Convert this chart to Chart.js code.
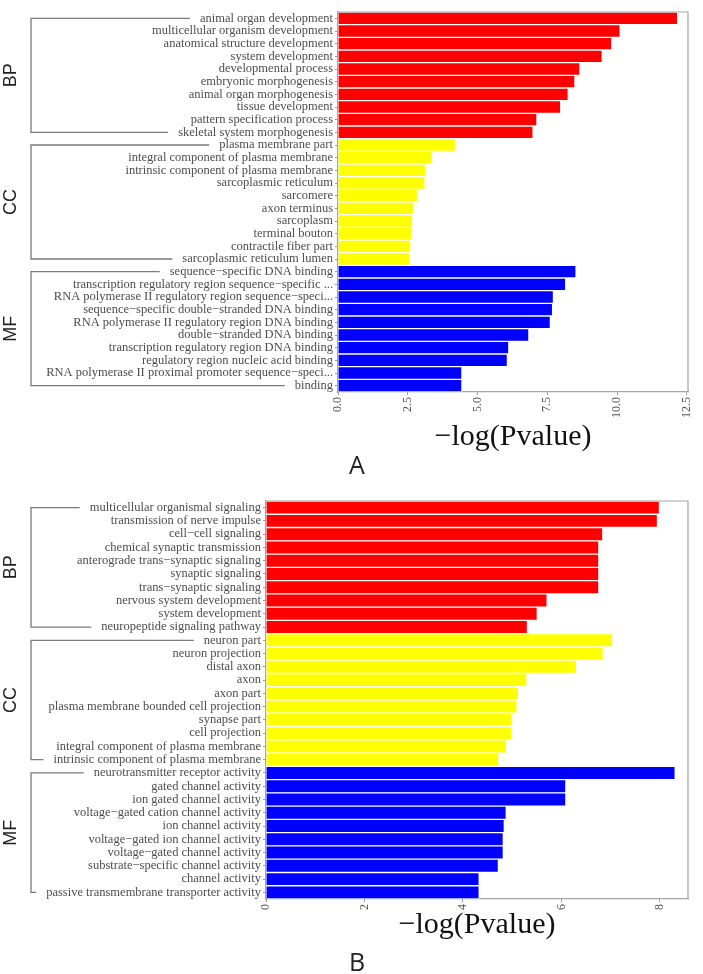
<!DOCTYPE html>
<html>
<head>
<meta charset="utf-8">
<script src="https://cdn.jsdelivr.net/npm/chart.js@4.4.1/dist/chart.umd.min.js"></script>
<style>
body{margin:0;background:#fff;width:703px;height:974px;position:relative;overflow:hidden}
canvas{position:absolute;left:0}
.tag{position:absolute;font-family:"Open Sans";font-size:25px;color:#222;width:40px;text-align:center}
</style>
</head>
<body>
<canvas id="chartA" width="703" height="460" style="top:0"></canvas>
<div class="tag" style="left:337px;top:447px">A</div>
<canvas id="chartB" width="703" height="470" style="top:490px"></canvas>
<div class="tag" style="left:337px;top:944px">B</div>
<script>
// ---- chart A data ----
const catsA_BP=["animal organ development","multicellular organism development","anatomical structure development","system development","developmental process","embryonic morphogenesis","animal organ morphogenesis","tissue development","pattern specification process","skeletal system morphogenesis"];
const valsA_BP=[12.17,10.11,9.81,9.47,8.67,8.49,8.25,7.98,7.13,6.99];
const catsA_CC=["plasma membrane part","integral component of plasma membrane","intrinsic component of plasma membrane","sarcoplasmic reticulum","sarcomere","axon terminus","sarcoplasm","terminal bouton","contractile fiber part","sarcoplasmic reticulum lumen"];
const valsA_CC=[4.21,3.37,3.14,3.12,2.85,2.71,2.68,2.64,2.61,2.58];
const catsA_MF=["sequence−specific DNA binding","transcription regulatory region sequence−specific ...","RNA polymerase II regulatory region sequence−speci...","sequence−specific double−stranded DNA binding","RNA polymerase II regulatory region DNA binding","double−stranded DNA binding","transcription regulatory region DNA binding","regulatory region nucleic acid binding","RNA polymerase II proximal promoter sequence−speci...","binding"];
const valsA_MF=[8.53,8.16,7.72,7.69,7.61,6.84,6.12,6.07,4.44,4.44];
const xTicksA=[0,2.5,5,7.5,10,12.5];

// ---- chart B data ----
const catsB_BP=["multicellular organismal signaling","transmission of nerve impulse","cell−cell signaling","chemical synaptic transmission","anterograde trans−synaptic signaling","synaptic signaling","trans−synaptic signaling","nervous system development","system development","neuropeptide signaling pathway"];
const valsB_BP=[7.99,7.95,6.84,6.76,6.76,6.76,6.76,5.71,5.51,5.31];
const catsB_CC=["neuron part","neuron projection","distal axon","axon","axon part","plasma membrane bounded cell projection","synapse part","cell projection","integral component of plasma membrane","intrinsic component of plasma membrane"];
const valsB_CC=[7.04,6.85,6.31,5.30,5.13,5.10,5.00,5.00,4.88,4.73];
const catsB_MF=["neurotransmitter receptor activity","gated channel activity","ion gated channel activity","voltage−gated cation channel activity","ion channel activity","voltage−gated ion channel activity","voltage−gated channel activity","substrate−specific channel activity","channel activity","passive transmembrane transporter activity"];
const valsB_MF=[8.31,6.09,6.09,4.88,4.84,4.82,4.82,4.72,4.33,4.33];
const xTicksB=[0,2,4,6,8];

const groupNames=["BP","CC","MF"];
const groupColors=["#ff0000","#ffff00","#0000ff"];
const axisTitle="−log(Pvalue)";

const LABEL_FONT='12.5px "Liberation Serif"';

// brackets + group names on the left, top/right panel border
const groupBrackets={
  id:'groupBrackets',
  afterDraw(chart,args,opts){
    const ctx=chart.ctx, ca=chart.chartArea, ys=chart.scales.y;
    ctx.save();
    ctx.strokeStyle='#a3a3a3';ctx.lineWidth=1.2;
    ctx.beginPath();ctx.moveTo(ca.left,ca.top);ctx.lineTo(ca.right,ca.top);ctx.lineTo(ca.right,ca.bottom);ctx.stroke();
    const labelRight=ca.left-5, bx=31;
    let idx=0;
    opts.sizes.forEach((n,g)=>{
      const i0=idx,i1=idx+n-1;idx+=n;
      const y0=ys.getPixelForValue(i0),y1=ys.getPixelForValue(i1);
      ctx.font=LABEL_FONT;
      const x0=Math.max(bx+4,labelRight-ctx.measureText(chart.data.labels[i0]).width-10);
      const x1=Math.max(bx+4,labelRight-ctx.measureText(chart.data.labels[i1]).width-10);
      ctx.strokeStyle='#7a7a7a';ctx.lineWidth=1.3;
      ctx.beginPath();ctx.moveTo(x0,y0);ctx.lineTo(bx,y0);ctx.lineTo(bx,y1);ctx.lineTo(x1,y1);ctx.stroke();
      ctx.save();
      ctx.translate(11,(y0+y1)/2);ctx.rotate(-Math.PI/2);
      ctx.font='18px "Liberation Sans"';ctx.fillStyle='#222';ctx.textAlign='center';ctx.textBaseline='middle';
      ctx.fillText(groupNames[g],0,0);
      ctx.restore();
    });
    ctx.restore();
  }
};

const makeChart=(id,groups,ticks,max,fmt,dims)=>{
  let labels=[],values=[],colors=[],sizes=[];
  groups.forEach((g,i)=>{
    labels=labels.concat(g[0]);values=values.concat(g[1]);
    colors=colors.concat(g[0].map(()=>groupColors[i]));
    sizes.push(g[0].length);
  });
  return new Chart(document.getElementById(id),{
    type:'bar',
    data:{labels:labels,datasets:[{
      data:values,backgroundColor:colors,
      borderColor:'rgba(255,255,255,0.7)',borderWidth:1,borderSkipped:'start',
      barPercentage:1,categoryPercentage:1
    }]},
    options:{
      indexAxis:'y',responsive:false,animation:false,
      layout:{padding:{left:0,right:dims.right,top:dims.top,bottom:0}},
      plugins:{legend:{display:false},tooltip:{enabled:false},groupBrackets:{sizes:sizes}},
      scales:{
        x:{
          min:0,max:max,
          afterBuildTicks:s=>{s.ticks=ticks.map(v=>({value:v}));},
          afterFit:s=>{s.height=dims.axisH;s.paddingLeft=0;s.paddingRight=0;},
          ticks:{minRotation:90,maxRotation:90,font:{family:'Liberation Serif',size:12},color:'#555',padding:2,callback:v=>fmt(v)},
          grid:{display:true,drawOnChartArea:false,tickLength:3,color:'#999'},
          border:{display:true,color:'#a3a3a3',width:1.2},
          title:{display:true,text:axisTitle,font:{family:'Liberation Serif',size:30},color:'#111',padding:{top:0,bottom:dims.titlePad}}
        },
        y:{
          afterFit:s=>{s.width=dims.left;s.paddingTop=0;s.paddingBottom=0;},
          ticks:{autoSkip:false,font:{family:'Liberation Serif',size:12.5},color:'#4d4d4d',padding:2},
          grid:{display:true,drawOnChartArea:false,tickLength:3,color:'#999',offset:false},
          border:{display:true,color:'#a3a3a3',width:1.2}
        }
      }
    },
    plugins:[groupBrackets]
  });
};

makeChart('chartA',[[catsA_BP,valsA_BP],[catsA_CC,valsA_CC],[catsA_MF,valsA_MF]],xTicksA,12.54,v=>v.toFixed(1),
  {left:338,right:15,top:12,axisH:68,titlePad:5});
makeChart('chartB',[[catsB_BP,valsB_BP],[catsB_CC,valsB_CC],[catsB_MF,valsB_MF]],xTicksB,8.57,v=>String(v),
  {left:266,right:15,top:11,axisH:61,titlePad:17});
</script>
</body>
</html>
